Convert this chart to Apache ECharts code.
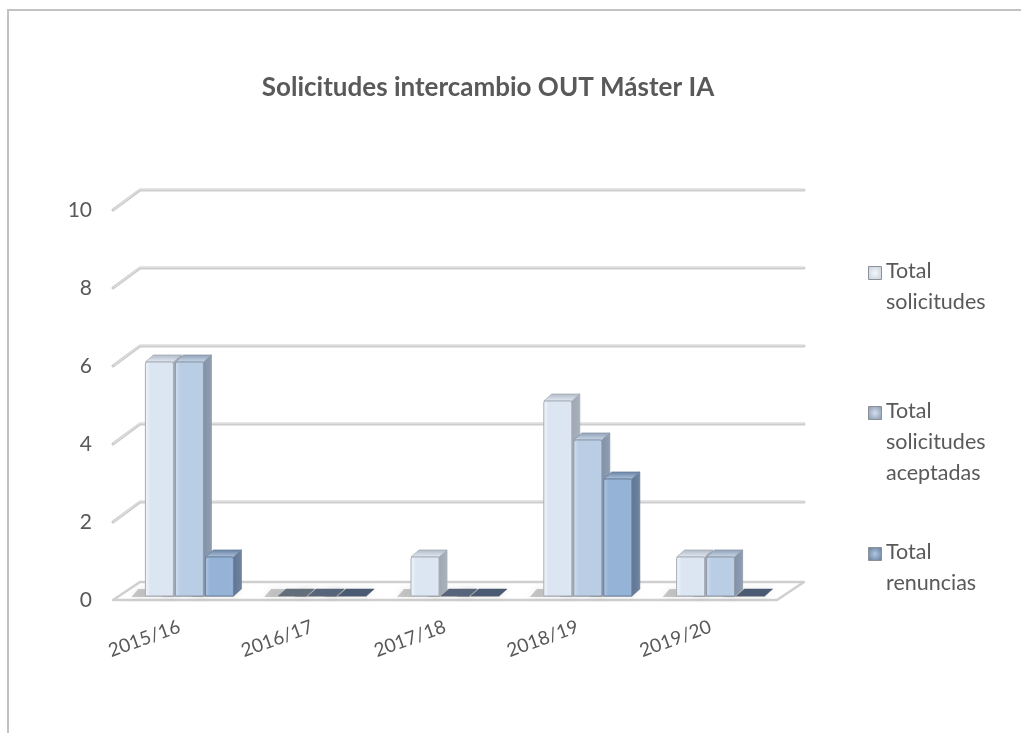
<!DOCTYPE html>
<html>
<head>
<meta charset="utf-8">
<script src="https://cdn.jsdelivr.net/npm/echarts@6/dist/echarts.min.js"></script>
<style>
  html, body { margin: 0; padding: 0; background: #ffffff; }
  #chart { width: 1021px; height: 733px; }
</style>
</head>
<body>
<div id="chart"></div>
<script>
// Academic years on the category axis
const categories = ['2015/16', '2016/17', '2017/18', '2018/19', '2019/20'];

// Series values per year
const totalSolicitudes = [6, 0, 1, 5, 1];
const totalAceptadas = [6, 0, 0, 4, 1];
const totalRenuncias = [1, 0, 0, 3, 0];

// Value axis ticks
const valueTicks = [0, 2, 4, 6, 8, 10];

const seriesNames = ['Total solicitudes', 'Total solicitudes aceptadas', 'Total renuncias'];
const legendLabels = ['Total\nsolicitudes', 'Total\nsolicitudes\naceptadas', 'Total\nrenuncias'];
const seriesValues = [totalSolicitudes, totalAceptadas, totalRenuncias];

const FONT = 'Lato, "Open Sans", sans-serif';
const TEXT = '#595959';

// Box look for each series: front face, highlight, side, top, outline, flat (zero) colour
const palette = [
  { front: '#dce6f2', hi: '#f3f7fc', side: '#9ea7b3', top: '#e6edf6', line: '#a7adb6', flat: '#646e7b' },
  { front: '#b9cde5', hi: '#d2dfef', side: '#8191a6', top: '#cddaeb', line: '#8e99a8', flat: '#576479' },
  { front: '#95b3d7', hi: '#b0c7e3', side: '#5e7594', top: '#b0c5e0', line: '#6c819c', flat: '#4a5a72' }
];

// 3D projection offsets
const WALL_DX = 27, WALL_DY = -20;     // depth of the floor / back wall
const BAR_DX = 10, BAR_DY = -4;        // bars sit slightly inside the floor
const BAR_W = 28, BAR_PITCH = 30;      // bar width and spacing inside a group
const DEPTH_X = 8, DEPTH_Y = -7;       // bar depth

function hGrad(a, b, c) {
  return new echarts.graphic.LinearGradient(0, 0, 1, 0, [
    { offset: 0, color: a }, { offset: 0.18, color: b }, { offset: 0.85, color: b }, { offset: 1, color: c }
  ]);
}

// Back wall gridlines and floor
function renderWall(params, api) {
  const v = api.value(1);
  const cs = params.coordSys;
  const y = api.coord([0, v])[1];
  const xs = cs.x, xe = cs.x + cs.width;
  if (v === 0) {
    return {
      type: 'group',
      children: [
        {
          type: 'polygon',
          shape: { points: [[xs, y], [xe, y], [xe + WALL_DX, y + WALL_DY + 2], [xs + WALL_DX, y + WALL_DY + 2]] },
          style: { fill: '#ffffff', stroke: '#cfcfcf', lineWidth: 2.5, lineJoin: 'round' }
        }
      ]
    };
  }
  return {
    type: 'group',
    children: [
      {
        type: 'polyline',
        shape: { points: [[xs, y], [xs + WALL_DX, y + WALL_DY], [xe + WALL_DX, y + WALL_DY]] },
        style: { fill: null, stroke: '#cdcdcd', lineWidth: 3, lineJoin: 'round', lineCap: 'round' }
      },
      {
        type: 'polyline',
        shape: { points: [[xs + 1, y - 0.8], [xs + WALL_DX, y + WALL_DY - 0.8], [xe + WALL_DX, y + WALL_DY - 0.8]] },
        style: { fill: null, stroke: '#e4e4e4', lineWidth: 1 }
      }
    ]
  };
}

// 3D box for one bar
function makeBarRenderer(s) {
  const c = palette[s];
  return function (params, api) {
    const cat = api.value(0);
    const val = api.value(1);
    const base = api.coord([cat, 0]);
    const top = api.coord([cat, val]);
    const xc = base[0] + BAR_DX + (s - 1) * BAR_PITCH;
    const x0 = xc - BAR_W / 2;
    const x1 = x0 + BAR_W;
    const yb = base[1] + BAR_DY;
    const yt = top[1] + BAR_DY;
    const children = [];
    // soft floor shadow
    children.push({
      type: 'polygon',
      shape: { points: [[x0 - 14, yb + 1], [x1, yb + 1], [x1 + DEPTH_X, yb + DEPTH_Y], [x0 - 7, yb + DEPTH_Y]] },
      style: { fill: 'rgba(90,90,90,0.32)', shadowBlur: 7, shadowColor: 'rgba(90,90,90,0.4)' },
      z2: 0
    });
    if (val === 0) {
      children.push({
        type: 'polygon',
        shape: { points: [[x0, yb], [x1, yb], [x1 + DEPTH_X, yb + DEPTH_Y], [x0 + DEPTH_X, yb + DEPTH_Y]] },
        style: { fill: c.flat, stroke: c.flat, lineWidth: 0.5, lineJoin: 'round' },
        z2: 1
      });
      return { type: 'group', children: children };
    }
    // side face
    children.push({
      type: 'polygon',
      shape: { points: [[x1, yt], [x1 + DEPTH_X, yt + DEPTH_Y], [x1 + DEPTH_X, yb + DEPTH_Y], [x1, yb]] },
      style: {
        fill: new echarts.graphic.LinearGradient(0, 0, 1, 0, [
          { offset: 0, color: c.side }, { offset: 1, color: echarts.color.lift(c.side, 0.12) }
        ]),
        stroke: c.line, lineWidth: 0.8, lineJoin: 'round'
      },
      z2: 1
    });
    // top face
    children.push({
      type: 'polygon',
      shape: { points: [[x0, yt], [x0 + DEPTH_X, yt + DEPTH_Y], [x1 + DEPTH_X, yt + DEPTH_Y], [x1, yt]] },
      style: {
        fill: new echarts.graphic.LinearGradient(0, 1, 0, 0, [
          { offset: 0, color: c.top }, { offset: 1, color: echarts.color.lift(c.side, -0.1) }
        ]),
        stroke: c.line, lineWidth: 0.8, lineJoin: 'round'
      },
      z2: 1
    });
    // front face
    children.push({
      type: 'rect',
      shape: { x: x0, y: yt, width: BAR_W, height: yb - yt, r: [2, 2, 0, 0] },
      style: { fill: hGrad(c.hi, c.front, echarts.color.lift(c.front, 0.06)), stroke: c.line, lineWidth: 1 },
      z2: 2
    });
    return { type: 'group', children: children };
  };
}

const barSeries = seriesValues.map(function (vals, s) {
  return {
    name: seriesNames[s],
    type: 'custom',
    z: 3,
    renderItem: makeBarRenderer(s),
    encode: { x: 0, y: 1 },
    data: vals.map(function (v, i) { return [i, v]; })
  };
});

// Legend drawn at the right, one block per series
const legendTop = [256, 396, 537];
const legendGraphics = [];
legendLabels.forEach(function (label, s) {
  const c = palette[s];
  legendGraphics.push({
    type: 'rect',
    left: 868, top: legendTop[s] + 10,
    shape: { x: 0, y: 0, width: 13, height: 13 },
    style: {
      fill: new echarts.graphic.RadialGradient(0.5, 0.5, 0.7, [
        { offset: 0, color: c.hi }, { offset: 1, color: s === 0 ? '#c4ccd6' : c.side }
      ]),
      stroke: '#8c9198', lineWidth: 1
    }
  });
  legendGraphics.push({
    type: 'text',
    left: 886, top: legendTop[s],
    style: { text: label, font: '21.5px ' + FONT, fill: TEXT, lineHeight: 31 }
  });
});

const option = {
  backgroundColor: '#ffffff',
  animation: false,
  grid: { left: 113, right: 244, top: 210, bottom: 133, containLabel: false },
  xAxis: {
    type: 'category',
    data: categories,
    boundaryGap: true,
    axisLine: { show: false },
    axisTick: { show: false },
    splitLine: { show: false },
    axisLabel: { rotate: 20, margin: 26, fontSize: 19, fontFamily: FONT, color: TEXT }
  },
  yAxis: {
    type: 'value',
    min: 0, max: 10, interval: 2,
    axisLine: { show: false },
    axisTick: { show: false },
    splitLine: { show: false },
    axisLabel: { margin: 21, fontSize: 21, fontFamily: FONT, color: TEXT }
  },
  series: [
    {
      name: 'wall',
      type: 'custom',
      z: 1,
      silent: true,
      renderItem: renderWall,
      encode: { x: 0, y: 1 },
      data: valueTicks.slice().reverse().map(function (v) { return [0, v]; })
    }
  ].concat(barSeries),
  graphic: [
    {
      type: 'polyline',
      shape: { points: [[8, 733], [8, 10], [1021, 10]] },
      style: { fill: null, stroke: '#c2c2c2', lineWidth: 2 }
    },
    {
      type: 'text',
      x: 488, y: 88,
      style: {
        text: 'Solicitudes intercambio OUT Máster IA',
        font: 'bold 26px ' + FONT, fill: TEXT, align: 'center', verticalAlign: 'middle'
      }
    }
  ].concat(legendGraphics)
};

const chart = echarts.init(document.getElementById('chart'), null, { renderer: 'canvas' });
chart.setOption(option);
</script>
</body>
</html>
